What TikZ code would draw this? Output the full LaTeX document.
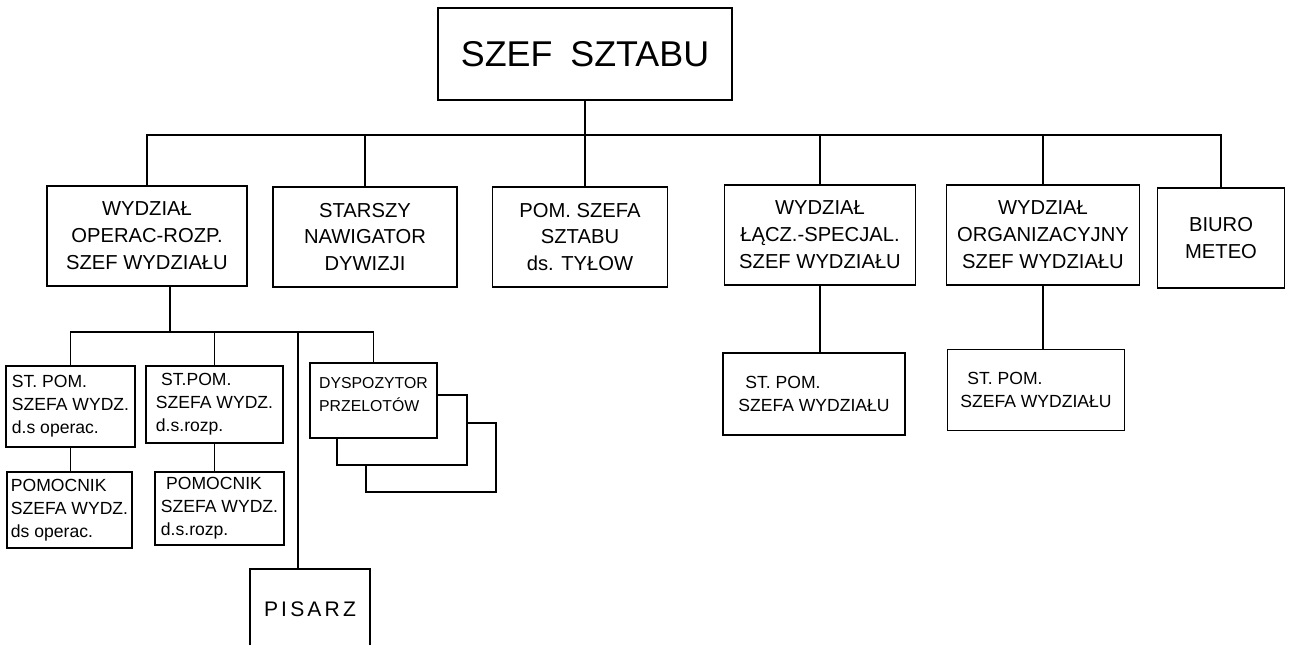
\documentclass[tikz,border=0pt]{standalone}
\usepackage{fontspec}
\setmainfont{Liberation Sans}
\usetikzlibrary{calc}
\newcommand*{\px}[1]{#1*0.02cm}
\tikzset{
  chief/.style={draw,line width=1.4pt,inner sep=0pt,
    font=\fontsize{20.4}{24}\selectfont},
  dept/.style={draw,line width=.9pt,inner sep=0pt,align=center,
    minimum height=\px{100},font=\fontsize{11.5}{15.3}\selectfont},
  post/.style={draw,line width=.9pt,inner sep=0pt,align=left,
    font=\fontsize{10}{13}\selectfont},
  link/.style={line width=.7pt}
}

\begin{document}
\begin{tikzpicture}[x=0.02cm,y=-0.02cm]
\clip (0,0) rectangle (1297,645);
\fill[white] (0,0) rectangle (1297,645);
\node[chief,minimum width=\px{294},minimum height=\px{92}] (szef) at (585,54)
  {SZEF\enspace SZTABU};
% departments
\node[dept,minimum width=\px{200}] (oper) at (147,236)
  {WYDZIAŁ\\OPERAC-ROZP.\\SZEF WYDZIAŁU};
\node[dept,minimum width=\px{184}] (nawig) at (365,237)
  {STARSZY\\NAWIGATOR\\DYWIZJI};
\node[dept,minimum width=\px{175}] (tyly) at (580,237)
  {POM. SZEFA\\SZTABU\\ds. TYŁOW};
\node[dept,minimum width=\px{191}] (lacz) at (820,235)
  {WYDZIAŁ\\ŁĄCZ.-SPECJAL.\\SZEF WYDZIAŁU};
\node[dept,minimum width=\px{193}] (org) at (1043,235)
  {WYDZIAŁ\\ORGANIZACYJNY\\SZEF WYDZIAŁU};
\node[dept,minimum width=\px{127}] (meteo) at (1221,238)
  {BIURO\\METEO};
\coordinate (bus) at (0,135);
\draw[link] (oper.north) |- (meteo.north |- bus) -- (meteo.north);
\draw[link] (szef.south) -- (szef.south |- tyly.north);
\foreach \d in {nawig,lacz,org}
  \draw[link] (\d.north) -- (\d.north |- bus);
% assistants right
\node[post,minimum width=\px{182},minimum height=\px{82}] (laczpom) at (814,394)
  {\hspace*{4pt}ST. POM.\\SZEFA WYDZIAŁU};
\node[post,minimum width=\px{177},minimum height=\px{81}] (orgpom) at (1036,390)
  {\hspace*{4pt}ST. POM.\\SZEFA WYDZIAŁU};
\draw[link] (lacz.south) -- (lacz.south |- laczpom.north);
\draw[link] (org.south) -- (org.south |- orgpom.north);
% operations department
\node[post,minimum width=\px{129},minimum height=\px{81}] (stoper) at (70.5,406.5)
  {ST. POM.\\SZEFA WYDZ.\\d.s operac.};
\node[post,minimum width=\px{137},minimum height=\px{77}] (strozp) at (214.5,404.5)
  {\hspace*{3pt}ST.POM.\\SZEFA WYDZ.\\d.s.rozp.};
\node[post,minimum width=\px{125},minimum height=\px{76}] (pomoper) at (69.5,510)
  {POMOCNIK\\SZEFA WYDZ.\\ds operac.};
\node[post,minimum width=\px{129},minimum height=\px{73}] (pomrozp) at (219.5,508.5)
  {\hspace*{3pt}POMOCNIK\\SZEFA WYDZ.\\d.s.rozp.};
\node[post,fill=white,minimum width=\px{130},minimum height=\px{69}] (dysp3) at (431,457.5) {};
\node[post,fill=white,minimum width=\px{130},minimum height=\px{70}] (dysp2) at (402,430) {};
\node[post,fill=white,minimum width=\px{127},minimum height=\px{75},
  font=\fontsize{9}{13}\selectfont] (dysp) at (373.5,400.5)
  {DYSPOZYTOR\\PRZELOTÓW\\[-6pt]};
\node[post,anchor=north,minimum width=\px{120},minimum height=\px{80},
  font=\fontsize{12}{14}\selectfont\addfontfeatures{LetterSpace=15}] (pisarz) at (310,568)
  {PISARZ};
\coordinate (sub) at (170,332);
\coordinate (pis) at (298,332);
\draw[link] (oper.south -| sub) -- (sub);
\draw[link] (stoper.north) |- (dysp.north |- sub) -- (dysp.north);
\draw[link] (strozp.north) -- (strozp.north |- sub);
\draw[link] (pis) -- (pis |- pisarz.north);
\draw[link] (stoper.south) -- (stoper.south |- pomoper.north);
\draw[link] (strozp.south) -- (strozp.south |- pomrozp.north);
\end{tikzpicture}
\end{document}
